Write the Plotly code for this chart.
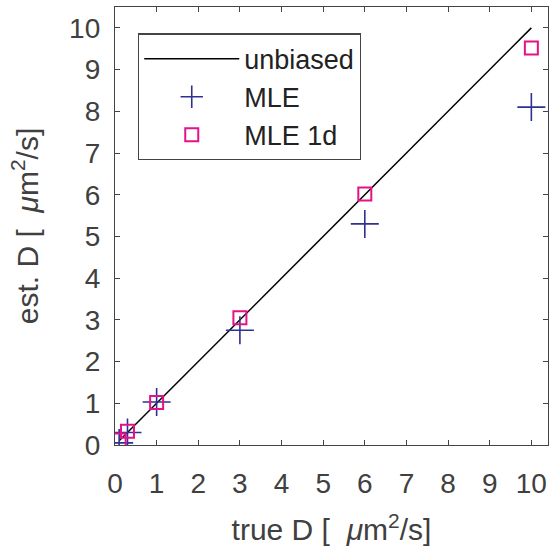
import plotly.graph_objects as go

true_d = [0.1, 0.3, 1, 3, 6, 10]
mle = [0.05, 0.3, 1.03, 2.75, 5.3, 8.1]
mle_1d = [0.12, 0.33, 1.02, 3.05, 6.02, 9.52]
ticks = list(range(0, 11))

font = "Liberation Sans, Arial, Helvetica, sans-serif"
fig = go.Figure()
fig.add_trace(go.Scatter(x=true_d, y=true_d, mode="lines", name="unbiased",
                         line=dict(color="black", width=1.5)))
fig.add_trace(go.Scatter(x=true_d, y=mle, mode="markers", name="MLE",
                         marker=dict(symbol="cross-thin", size=20,
                                     line=dict(color="#2E3192", width=1.6))))
fig.add_trace(go.Scatter(x=true_d, y=mle_1d, mode="markers", name="MLE 1d",
                         marker=dict(symbol="square-open", size=13, color="#E6118A",
                                     line=dict(color="#E6118A", width=2))))

axis_common = dict(tickmode="array", tickvals=ticks, ticktext=[str(t) for t in ticks],
                   ticks="inside", ticklen=5, tickcolor="#444", mirror="ticks",
                   showline=True, linecolor="#444", linewidth=1.3, showgrid=False,
                   zeroline=False, tickfont=dict(size=28, color="#404040", family=font))
title_font = dict(size=30, color="#404040", family=font)
unit = "[\u00a0 <i>μ</i>m<sup>2</sup>/s]"
fig.update_xaxes(range=[0, 10.4], ticklabelstandoff=13,
                 title=dict(text="true D " + unit, font=title_font, standoff=21), **axis_common)
fig.update_yaxes(range=[0, 10.5], ticklabelstandoff=8,
                 title=dict(text="est. D " + unit, font=title_font, standoff=21), **axis_common)
fig.update_layout(
    width=550, height=549, plot_bgcolor="white", paper_bgcolor="white",
    margin=dict(l=115, r=2, t=7, b=104),
    font=dict(family=font),
    legend=dict(x=0.053, y=0.94, xanchor="left", yanchor="top",
                bordercolor="#444", borderwidth=1.3, bgcolor="white",
                font=dict(size=27, color="#222", family=font), itemwidth=95,
                tracegroupgap=0),
)
fig.write_html("out.html", config={"displayModeBar": False},
               post_script="document.body.style.margin='0px';document.body.style.overflow='hidden';")
